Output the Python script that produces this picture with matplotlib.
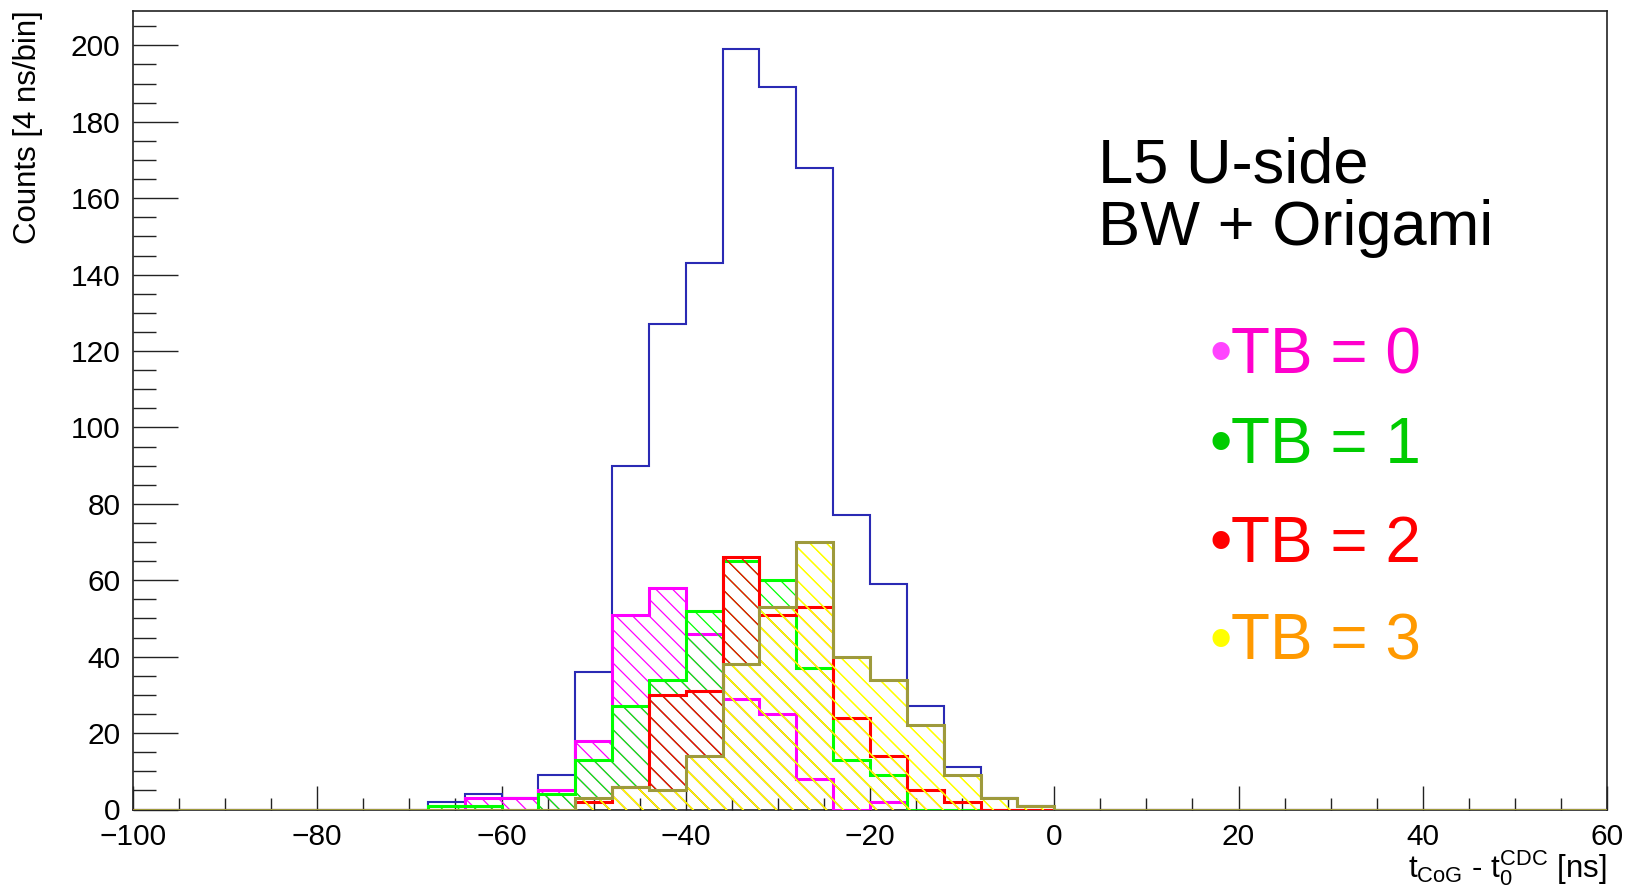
import matplotlib
matplotlib.use("Agg")
import matplotlib.pyplot as plt
import numpy as np
from matplotlib.ticker import MultipleLocator

plt.rcParams.update({
    "font.family": ["Liberation Sans", "DejaVu Sans"],
    "mathtext.fontset": "custom",
    "mathtext.rm": "Liberation Sans",
    "mathtext.it": "Liberation Sans",
    "mathtext.bf": "Liberation Sans:bold",
    "hatch.linewidth": 0.9,
})

# 4 ns bins from -100 to 60 ns
edges = np.arange(-100, 61, 4)
first_bin = -68  # left edge of the first filled bin

# counts per bin, starting at first_bin
total = [2, 4, 3, 9, 36, 90, 127, 143, 199, 189, 168, 77, 59, 27, 11, 3, 1]
tb0 = [0, 3, 3, 5, 18, 51, 58, 46, 29, 25, 8, 0, 2, 0, 0, 0, 0]
tb1 = [1, 1, 0, 4, 13, 27, 34, 52, 65, 60, 37, 13, 9, 0, 0, 0, 0]
tb2 = [0, 0, 0, 0, 2, 6, 30, 31, 66, 51, 53, 24, 14, 5, 2, 0, 0]
tb3 = [0, 0, 0, 0, 3, 6, 5, 14, 38, 53, 70, 40, 34, 22, 9, 3, 1]

tb_labels = ["TB = 0", "TB = 1", "TB = 2", "TB = 3"]
line_colors = ["#ff00ff", "#00ff00", "#ff0000", "#9e9a3c"]
hatch_colors = ["#ff00ff", "#00ff00", "#ff0000", "#ffff00"]
text_colors = ["#ff00cc", "#00cc00", "#ff0000", "#ff9900"]
bullet_colors = ["#ff44ff", "#00cc00", "#ff0000", "#ffff00"]


def full_range(vals):
    arr = np.zeros(len(edges) - 1)
    i0 = (first_bin - edges[0]) // 4
    arr[i0:i0 + len(vals)] = vals
    return arr


W, H = 1628, 893
fig = plt.figure(figsize=(W / 100, H / 100), dpi=100)
ax = fig.add_axes([133 / W, 1 - 809.5 / H, (1607 - 133) / W, (809.5 - 11) / H])

# total first, then each TB with hatch fill + outline
ax.stairs(full_range(total), edges, color="#2a2ab4", lw=1.5, zorder=3)
for k, (vals, lc, hc) in enumerate(zip([tb0, tb1, tb2, tb3], line_colors, hatch_colors)):
    h = full_range(vals)
    # the last one is drawn twice so it covers the hatches below it
    for _ in range(2 if k == 3 else 1):
        ax.stairs(h, edges, fill=True, facecolor="none", edgecolor=hc,
                  hatch="\\\\", lw=0, zorder=3)
    ax.stairs(h, edges, color=lc, lw=2.2, zorder=3)

ax.set_xlim(-100, 60)
ax.set_ylim(0, 209)
ax.xaxis.set_major_locator(MultipleLocator(20))
ax.xaxis.set_minor_locator(MultipleLocator(5))
ax.yaxis.set_major_locator(MultipleLocator(20))
ax.yaxis.set_minor_locator(MultipleLocator(5))
ax.tick_params(which="both", direction="in", top=False, right=False,
               width=1.0, color="#222222", labelsize=21.5)
ax.tick_params(axis="x", which="major", length=17.3, pad=9.5)
ax.tick_params(axis="x", which="minor", length=8.6)
ax.tick_params(axis="y", which="major", length=32.4, pad=9)
ax.tick_params(axis="y", which="minor", length=16.6)
for sp in ax.spines.values():
    sp.set_linewidth(1.2)
    sp.set_color("#222222")

fig.text(28 / W, 1 - 10 / H, "Counts [4 ns/bin]", rotation=90,
         ha="center", va="top", fontsize=22.5)
fig.text(1607 / W, 1 - 877 / H,
         r"$\mathrm{t}_{\mathrm{CoG}}$ - $\mathrm{t}_{0}^{\mathrm{CDC}}$ [ns]",
         ha="right", va="baseline", fontsize=22.5)

fig.text(1098 / W, 1 - 182.7 / H, "L5 U-side", fontsize=45.5,
         ha="left", va="baseline")
fig.text(1098 / W, 1 - 245 / H, "BW + Origami", fontsize=45.5,
         ha="left", va="baseline")

baselines = [373.3, 463.3, 561.7, 660]
for lab, tc, bc, yb in zip(tb_labels, text_colors, bullet_colors, baselines):
    fig.text(1209 / W, 1 - yb / H, "\u2022", color=bc, fontsize=46,
             ha="left", va="baseline")
    fig.text(1231 / W, 1 - yb / H, lab, color=tc, fontsize=46,
             ha="left", va="baseline")

fig.savefig("out.png", dpi=100)
